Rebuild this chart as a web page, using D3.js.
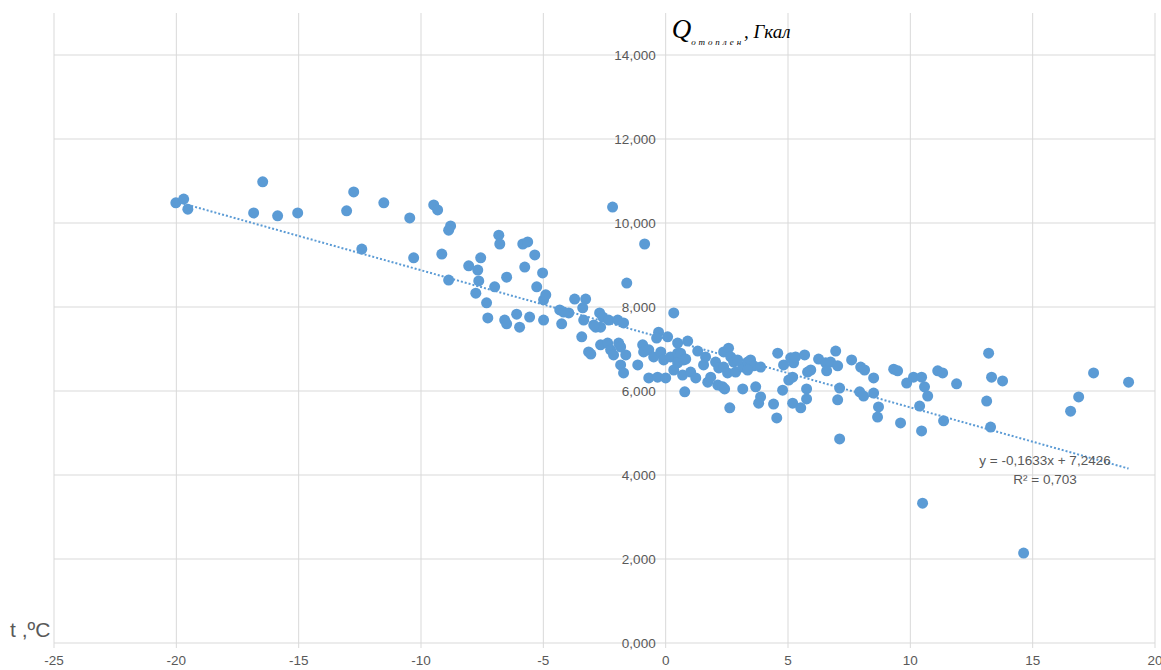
<!DOCTYPE html>
<html>
<head>
<meta charset="utf-8">
<script src="https://cdn.jsdelivr.net/npm/d3@7"></script>
<style>
  body { margin: 0; background: #fff; }
  svg { display: block; }
</style>
</head>
<body>
<div id="chart"></div>
<script>
// Outdoor temperature, °C
let tempC = [
  -20.02, -19.70, -19.53, -16.84, -16.47, -15.86, -15.04, -13.04, -12.75, -11.52,
  -10.46, -9.48, -9.32, -8.79, -8.87, -12.42, -10.30, -9.15, -8.87, -7.56,
  -8.05, -7.68, -7.64, -7.76, -7.32, -7.27, -6.99, -6.82, -6.78, -6.50,
  -6.58, -6.50, -6.09, -5.97, -5.84, -5.64, -5.76, -5.35, -5.03, -5.27,
  -4.99, -4.90, -5.56, -4.99, -4.25, -4.33, -3.96, -3.72, -3.27, -3.39,
  -3.35, -3.43, -3.15, -3.06, -2.70, -2.57, -2.86, -2.66, -2.33, -1.96,
  -1.72, -2.66, -2.37, -2.25, -2.17, -1.92, -1.84, -2.13, -1.63, -1.84,
  -1.72, -1.59, -0.86, -1.14, 0.33, 0.78, -0.69, -0.33, 0.00, -0.29,
  -0.37, 0.08, 0.49, 0.90, 1.31, -0.94, -0.90, -0.69, -0.49, -0.20,
  -0.08, 0.20, 0.49, 0.49, 0.74, 0.61, 0.82, 0.33, 0.69, 1.02,
  1.23, 1.55, 1.72, 1.84, 2.04, 2.17, 2.37, 2.57, 2.66, 2.78,
  2.37, 2.53, 2.86, 2.13, 2.33, 2.41, 2.62, 3.15, 3.35, 3.47,
  3.60, 3.88, 3.15, 3.68, 3.88, 3.80, 4.41, 4.54, 4.58, 4.82,
  5.11, 5.23, 5.31, 5.03, 5.19, 4.78, 5.19, 5.52, 5.68, 5.80,
  5.93, 5.76, 5.76, 6.25, 6.54, 6.74, 6.58, 7.03, 6.95, 7.11,
  7.03, 7.11, 7.60, 7.97, 8.13, 8.50, 7.93, 8.09, 8.50, 8.70,
  8.66, 9.32, 9.48, 9.60, 9.85, 10.13, 10.46, 10.58, 10.71, 10.38,
  10.46, 11.12, 11.32, 11.36, 11.89, 10.50, 13.20, 13.32, 13.77, 13.12,
  13.28, 14.63, 17.49, 18.92, 16.88, 16.55, -4.17, -2.94, 1.63, 2.94,
  3.35
];

// Heat consumption, Gcal (thousands)
let heatGcal = [
  10.48, 10.57, 10.33, 10.24, 10.98, 10.17, 10.24, 10.29, 10.74, 10.48,
  10.12, 10.43, 10.31, 9.93, 9.83, 9.38, 9.17, 9.26, 8.64, 9.17,
  8.98, 8.88, 8.62, 8.33, 8.10, 7.74, 8.48, 9.71, 9.50, 8.71,
  7.69, 7.60, 7.83, 7.52, 9.50, 9.55, 8.95, 9.24, 8.81, 8.48,
  8.17, 8.29, 7.76, 7.69, 7.60, 7.93, 7.86, 8.19, 8.19, 7.98,
  7.69, 7.29, 6.93, 6.88, 7.86, 7.76, 7.52, 7.52, 7.69, 7.69,
  7.62, 7.10, 7.14, 6.98, 10.38, 7.14, 7.05, 6.86, 6.86, 6.62,
  6.43, 8.57, 9.50, 6.62, 7.86, 5.98, 6.31, 6.33, 6.31, 7.40,
  7.26, 7.29, 7.14, 7.19, 6.95, 7.10, 6.93, 6.98, 6.81, 6.93,
  6.74, 6.81, 6.90, 6.67, 6.74, 6.90, 6.76, 6.50, 6.38, 6.45,
  6.31, 6.62, 6.21, 6.33, 6.69, 6.55, 6.93, 7.02, 6.81, 6.69,
  6.57, 6.43, 6.45, 6.14, 6.10, 6.05, 5.60, 6.57, 6.69, 6.74,
  6.60, 6.57, 6.05, 6.10, 5.86, 5.71, 5.69, 5.36, 6.90, 6.62,
  6.79, 6.67, 6.81, 6.26, 6.33, 6.02, 5.71, 5.60, 6.86, 6.45,
  6.50, 6.05, 5.81, 6.76, 6.67, 6.69, 6.48, 6.60, 6.95, 6.07,
  5.79, 4.86, 6.74, 6.57, 6.50, 6.31, 5.98, 5.88, 5.95, 5.62,
  5.38, 6.52, 6.48, 5.24, 6.19, 6.33, 6.33, 6.10, 5.88, 5.64,
  5.05, 6.48, 6.43, 5.29, 6.17, 3.33, 6.90, 6.33, 6.24, 5.76,
  5.14, 2.14, 6.43, 6.21, 5.86, 5.52, 7.88, 7.57, 6.81, 6.74,
  6.50
];

let xTicks = [-25, -20, -15, -10, -5, 0, 5, 10, 15, 20];
let yTicks = [0, 2, 4, 6, 8, 10, 12, 14];

// Linear trend (Excel): y = -0,1633x + 7,2426, R² = 0,703
let trendSlope = -0.1633;
let trendIntercept = 7.2426;
let trendLabels = ['y = -0,1633x + 7,2426', 'R² = 0,703'];

let data = tempC.map(function (t, i) {
    return { t: t, q: heatGcal[i] };
});

let W = 1161, H = 670;
let margin = { top: 13, right: 6, bottom: 27, left: 54 };
let width = W - margin.left - margin.right,
    height = H - margin.top - margin.bottom;

let ru = d3.formatLocale({ decimal: ',', thousands: ' ', grouping: [3], currency: ['', ''], minus: '-' });
let fmtY = ru.format('.3f');

let x = d3.scaleLinear().domain([-25, 20]).range([0, width]);
let y = d3.scaleLinear().domain([0, 15]).range([height, 0]);

let svg = d3.select('#chart')
    .append('svg')
    .attr('width', W)
    .attr('height', H)
    .append('g')
    .attr('transform', 'translate(' + margin.left + ',' + margin.top + ')');

let grid = '#d9d9d9', textCol = '#595959', dotCol = '#5b9bd5';
let sans = 'Liberation Sans, Arial, sans-serif';

// vertical gridlines
svg.append('g')
    .selectAll('line')
    .data(xTicks)
    .enter()
    .append('line')
    .attr('x1', function (d) { return x(d); })
    .attr('x2', function (d) { return x(d); })
    .attr('y1', 0)
    .attr('y2', height + 5)
    .attr('stroke', grid);

// horizontal gridlines
svg.append('g')
    .selectAll('line')
    .data(yTicks)
    .enter()
    .append('line')
    .attr('x1', 0)
    .attr('x2', width)
    .attr('y1', function (d) { return y(d); })
    .attr('y2', function (d) { return y(d); })
    .attr('stroke', grid);

// x tick labels
svg.append('g')
    .selectAll('text')
    .data(xTicks)
    .enter()
    .append('text')
    .attr('x', function (d) { return x(d); })
    .attr('y', height + 22)
    .attr('text-anchor', 'middle')
    .attr('font-family', sans)
    .attr('font-size', 13.5)
    .attr('fill', textCol)
    .text(function (d) { return d; });

// y tick labels sit next to the axis crossing at t = 0
svg.append('g')
    .selectAll('text')
    .data(yTicks)
    .enter()
    .append('text')
    .attr('x', x(0) - 10)
    .attr('y', function (d) { return y(d) + 5; })
    .attr('text-anchor', 'end')
    .attr('font-family', sans)
    .attr('font-size', 13.5)
    .attr('fill', textCol)
    .text(function (d) { return fmtY(d); });

// trend line
let tMin = d3.min(tempC), tMax = d3.max(tempC);
let trend = d3.line()
    .x(function (d) { return x(d); })
    .y(function (d) { return y(trendIntercept + trendSlope * d); });

svg.append('path')
    .datum([tMin, tMax])
    .attr('d', trend)
    .attr('fill', 'none')
    .attr('stroke', dotCol)
    .attr('stroke-width', 2)
    .attr('stroke-dasharray', '2,2');

// points
svg.append('g')
    .selectAll('circle')
    .data(data)
    .enter()
    .append('circle')
    .attr('cx', function (d) { return x(d.t); })
    .attr('cy', function (d) { return y(d.q); })
    .attr('r', 5.5)
    .attr('fill', dotCol);

// trend label
svg.append('g')
    .selectAll('text')
    .data(trendLabels)
    .enter()
    .append('text')
    .attr('x', 991)
    .attr('y', function (d, i) { return 452 + i * 19; })
    .attr('text-anchor', 'middle')
    .attr('font-family', sans)
    .attr('font-size', 13.5)
    .attr('fill', textCol)
    .text(function (d) { return d; });

// axis titles
let qTitle = svg.append('text')
    .attr('x', x(0) + 6)
    .attr('y', 25)
    .attr('font-family', 'Liberation Serif, Times New Roman, serif')
    .attr('font-style', 'italic')
    .attr('fill', '#000');
qTitle.append('tspan').attr('font-size', 27).text('Q');
qTitle.append('tspan').attr('font-size', 9).attr('dy', 7).attr('textLength', 50).text('отоплен');
qTitle.append('tspan').attr('font-size', 19).attr('dy', -7).text(', Гкал');

svg.append('text')
    .attr('x', -44)
    .attr('y', height - 6)
    .attr('font-family', sans)
    .attr('font-size', 21)
    .attr('fill', textCol)
    .text('t ,ºC');
</script>
</body>
</html>
